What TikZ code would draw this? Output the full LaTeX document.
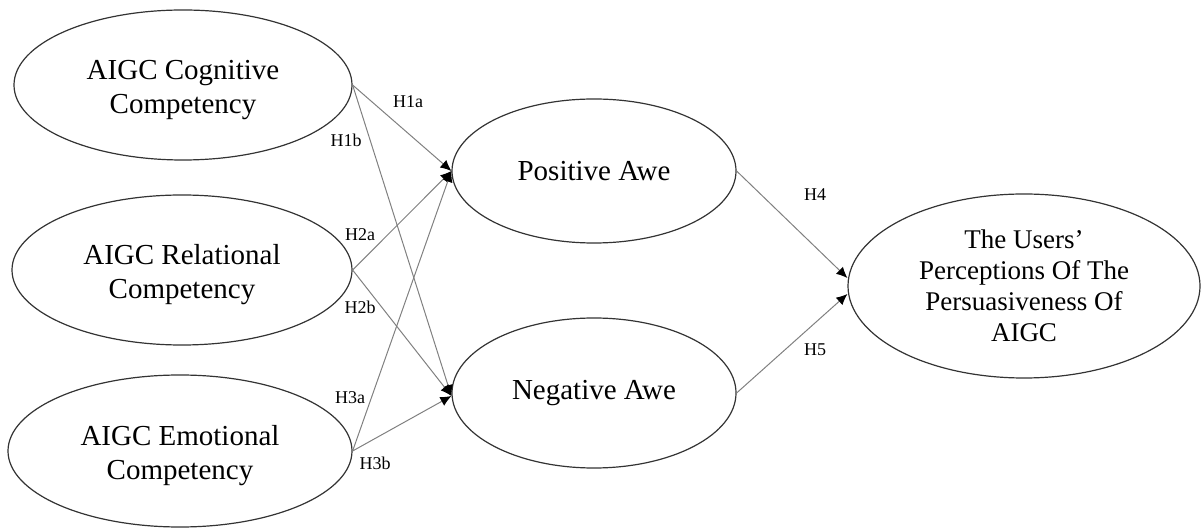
\documentclass[tikz,border=0pt]{standalone}
\usepackage{fontspec}
\setmainfont{Liberation Serif}
\usetikzlibrary{shapes.geometric,arrows.meta}
\newcommand\twolines[2]{\raisebox{-6pt}[0pt][0pt]{\begin{tabular}{@{}c@{}}#1\\#2\end{tabular}}}
\begin{document}
\begin{tikzpicture}[x=0.5pt,y=-0.5pt,
  construct/.style={ellipse,draw=black!80,line width=0.6pt,inner sep=0pt,align=center,font=\fontsize{14.5}{17}\selectfont},
  path/.style={draw=black!50,line width=0.5pt,-{Latex[length=5.5pt,width=5pt,black]}},
  hlabel/.style={font=\fontsize{9}{11}\selectfont,inner sep=0pt}]
\useasboundingbox (0,0) rectangle (1203,528);
\node[construct,minimum width=169pt,minimum height=75pt] (cog) at (183,85) {\twolines{AIGC Cognitive}{Competency}};
\node[construct,minimum width=170pt,minimum height=75pt] (rel) at (182,270) {\twolines{AIGC Relational}{Competency}};
\node[construct,minimum width=172pt,minimum height=76pt] (emo) at (180,451) {\twolines{AIGC Emotional}{Competency}};
\node[construct,minimum width=142pt,minimum height=72pt] (pos) at (594,171) {Positive Awe};
\node[construct,minimum width=142pt,minimum height=75pt] (neg) at (594,393) {Negative Awe};
\node[construct,minimum width=176pt,minimum height=92pt,font=\fontsize{13.5}{15.5}\selectfont] (usr) at (1024,286) {The Users’\\Perceptions Of The\\Persuasiveness Of\\AIGC};
\draw[path] (cog.east) -- (pos.west);
\draw[path] (cog.east) -- ([yshift=-1.5pt]neg.west);
\draw[path] (rel.east) -- (pos.west);
\draw[path] (rel.east) -- ([yshift=-1.5pt]neg.west);
\draw[path] (emo.east) -- (pos.west);
\draw[path] (emo.east) -- ([yshift=-1.5pt]neg.west);
\draw[path] (pos.east) -- ([yshift=4pt]usr.west);
\draw[path] (neg.east) -- ([yshift=-4pt]usr.west);
\node[hlabel] (h1a) at (408,102) {H1a};
\node[hlabel] (h1b) at (346,140) {H1b};
\node[hlabel] (h2a) at (360,235) {H2a};
\node[hlabel] (h2b) at (360,307) {H2b};
\node[hlabel] (h3a) at (350,398) {H3a};
\node[hlabel] (h3b) at (375,463) {H3b};
\node[hlabel] (h4) at (815,195) {H4};
\node[hlabel] (h5) at (815,350) {H5};
\end{tikzpicture}
\end{document}
